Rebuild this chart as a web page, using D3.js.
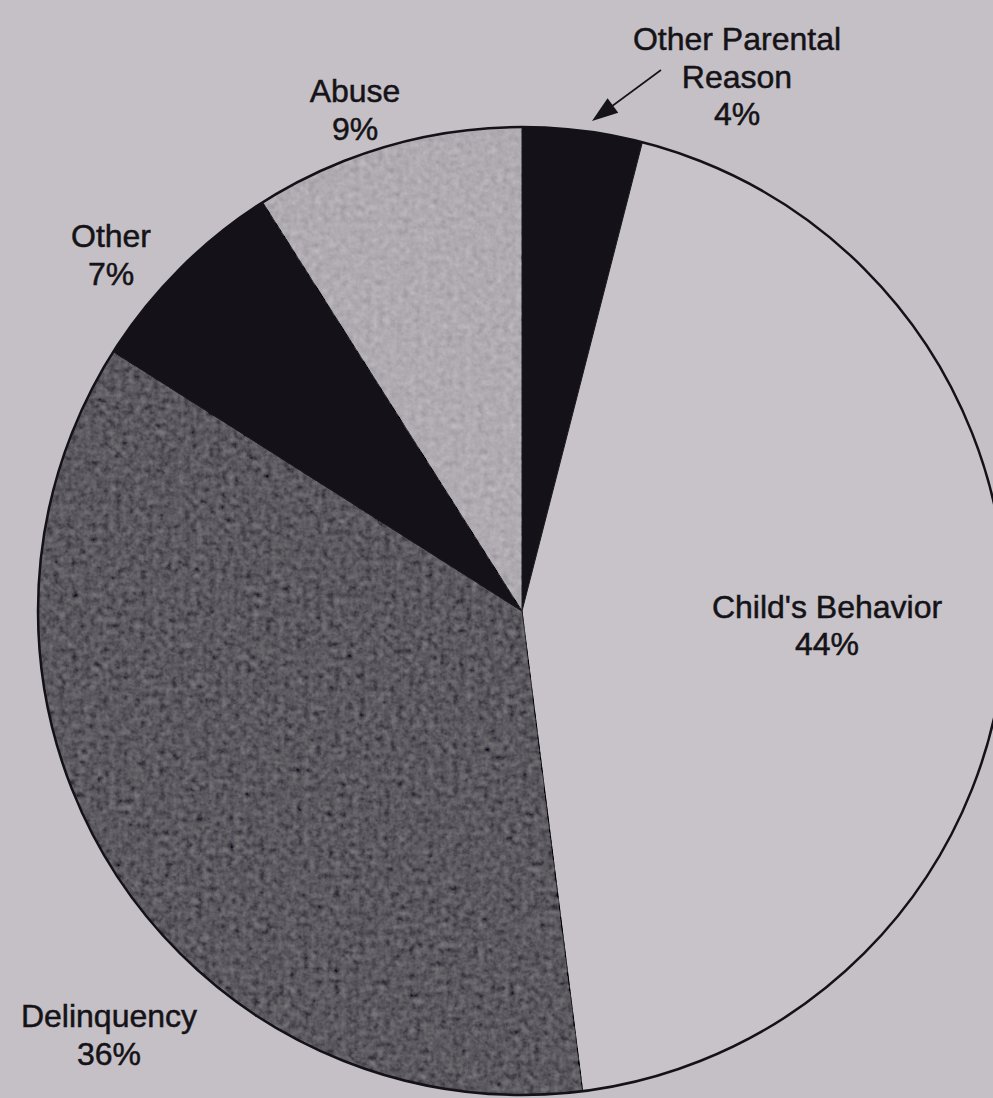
<!DOCTYPE html>
<html>
<head>
<meta charset="utf-8">
<script src="https://cdn.jsdelivr.net/npm/d3@7"></script>
<style>
html, body { margin: 0; padding: 0; background: #c4c0c6; }
svg { display: block; }
text { font-family: "Liberation Sans", Arial, Helvetica, sans-serif; fill: #151317; stroke: #151317; stroke-width: 0.5px; }
</style>
</head>
<body>
<svg id="chart" width="993" height="1098"></svg>
<script>
// Data (clockwise from 12 o'clock)
const categories = ["Other Parental Reason", "Child's Behavior", "Delinquency", "Other", "Abuse"];
const values = [4, 44, 36, 7, 9];
const fills = ["#141218", "#c7c3c9", "#5a575d", "#141218", "#aeaab0"];
const textured = [false, false, true, false, true];
const labelLines = [["Other Parental", "Reason", "4%"], ["Child's Behavior", "44%"], ["Delinquency", "36%"], ["Other", "7%"], ["Abuse", "9%"]];
const labelPos = [[737, 50, 37.5], [827, 618, 37], [109, 1027, 38], [111, 247, 38], [355, 102, 38]];

const W = 993, H = 1098;
const cx = 522, cy = 611, R = 484;

const svg = d3.select("#chart");
svg.append("rect").attr("width", W).attr("height", H).attr("fill", "#c4c0c6");

const defs = svg.append("defs");
const f = defs.append("filter").attr("id", "grain").attr("x", 0).attr("y", 0).attr("width", 1).attr("height", 1);
f.append("feTurbulence").attr("type", "fractalNoise").attr("baseFrequency", 0.16).attr("numOctaves", 3).attr("seed", 3).attr("result", "noise");
f.append("feColorMatrix").attr("in", "noise").attr("type", "matrix")
  .attr("values", "0.33 0.33 0.33 0 0  0.33 0.33 0.33 0 0  0.33 0.33 0.33 0 0  0 0 0 0 1").attr("result", "gray");
f.append("feComposite").attr("in", "SourceGraphic").attr("in2", "gray").attr("operator", "arithmetic")
  .attr("k1", 0).attr("k2", 1).attr("k3", 0.35).attr("k4", -0.17).attr("result", "mix");
f.append("feComposite").attr("in", "mix").attr("in2", "SourceAlpha").attr("operator", "in");

const pie = d3.pie().sort(null).value(d => d);
const arcs = pie(values);
const arc = d3.arc().innerRadius(0).outerRadius(R);

const g = svg.append("g").attr("transform", `translate(${cx},${cy})`);
g.selectAll("path.slice").data(arcs).join("path")
  .attr("class", "slice")
  .attr("d", arc)
  .attr("fill", (d, i) => fills[i])
  .attr("filter", (d, i) => textured[i] ? "url(#grain)" : null)
  .attr("stroke", "#1a181c").attr("stroke-width", 1);

g.append("circle").attr("r", R).attr("fill", "none").attr("stroke", "#141218").attr("stroke-width", 2.5);

// labels
const lg = svg.append("g");
labelLines.forEach((lines, i) => {
  const [x, y, dy] = labelPos[i];
  const t = lg.append("text").attr("text-anchor", "middle").attr("font-size", 32);
  lines.forEach((s, j) => {
    t.append("tspan").attr("x", x).attr("y", y + j * dy).text(s);
  });
});

// arrow for Other Parental Reason
svg.append("line").attr("x1", 661).attr("y1", 70).attr("x2", 600).attr("y2", 115)
  .attr("stroke", "#151317").attr("stroke-width", 1.6);
svg.append("path")
  .attr("d", (() => {
    const tip = [592, 121], ang = Math.atan2(121 - 70, 592 - 661);
    const L = 26, w = 9;
    const bx = tip[0] - L * Math.cos(ang), by = tip[1] - L * Math.sin(ang);
    const px = -Math.sin(ang) * w, py = Math.cos(ang) * w;
    return `M${tip[0]},${tip[1]} L${bx + px},${by + py} L${bx - px},${by - py} Z`;
  })())
  .attr("fill", "#151317");
</script>
</body>
</html>
